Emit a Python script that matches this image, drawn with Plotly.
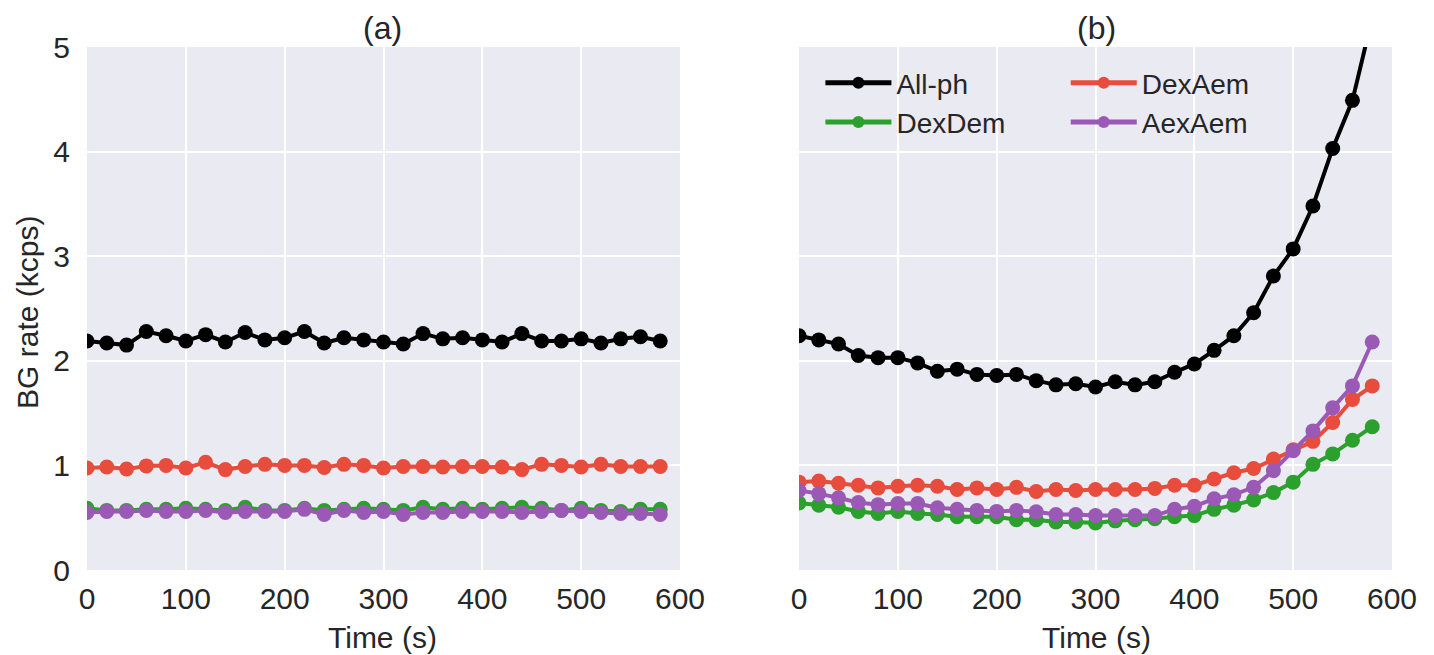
import plotly.graph_objects as go

time_s = [0, 20, 40, 60, 80, 100, 120, 140, 160, 180, 200, 220, 240, 260, 280,
          300, 320, 340, 360, 380, 400, 420, 440, 460, 480, 500, 520, 540, 560, 580]

# Panel (a)
a_allph = [2.19, 2.17, 2.15, 2.28, 2.24, 2.19, 2.25, 2.18, 2.27, 2.20, 2.22, 2.28, 2.17, 2.22, 2.20,
           2.18, 2.16, 2.26, 2.21, 2.22, 2.20, 2.18, 2.26, 2.19, 2.19, 2.21, 2.17, 2.21, 2.23, 2.19]
a_dexdem = [0.59, 0.57, 0.57, 0.58, 0.58, 0.59, 0.58, 0.57, 0.60, 0.57, 0.57, 0.59, 0.57, 0.58, 0.59,
            0.58, 0.57, 0.60, 0.58, 0.59, 0.58, 0.59, 0.60, 0.59, 0.57, 0.59, 0.57, 0.56, 0.58, 0.58]
a_dexaem = [0.975, 0.985, 0.965, 0.995, 1.00, 0.975, 1.03, 0.96, 0.99, 1.01, 1.00, 1.00, 0.98, 1.01, 1.00,
            0.975, 0.99, 0.99, 0.985, 0.99, 0.99, 0.985, 0.96, 1.01, 1.00, 0.985, 1.01, 0.99, 0.99, 0.99]
a_aexaem = [0.55, 0.56, 0.56, 0.57, 0.56, 0.56, 0.57, 0.55, 0.56, 0.56, 0.56, 0.58, 0.53, 0.57, 0.55,
            0.56, 0.53, 0.55, 0.55, 0.56, 0.56, 0.56, 0.55, 0.56, 0.57, 0.56, 0.55, 0.54, 0.54, 0.53]

# Panel (b)
b_allph = [2.24, 2.20, 2.16, 2.05, 2.03, 2.03, 1.98, 1.90, 1.92, 1.87, 1.86, 1.87, 1.81, 1.77, 1.78,
           1.75, 1.80, 1.77, 1.80, 1.89, 1.97, 2.10, 2.24, 2.46, 2.81, 3.07, 3.48, 4.03, 4.49, 5.28]
b_dexdem = [0.64, 0.62, 0.60, 0.56, 0.54, 0.56, 0.54, 0.53, 0.51, 0.51, 0.51, 0.48, 0.48, 0.46, 0.46,
            0.45, 0.47, 0.48, 0.49, 0.51, 0.52, 0.58, 0.62, 0.67, 0.74, 0.84, 1.01, 1.11, 1.24, 1.37]
b_dexaem = [0.84, 0.85, 0.83, 0.81, 0.785, 0.80, 0.81, 0.80, 0.77, 0.785, 0.77, 0.79, 0.75, 0.77, 0.76,
            0.77, 0.77, 0.77, 0.78, 0.81, 0.81, 0.87, 0.93, 0.97, 1.06, 1.15, 1.23, 1.41, 1.63, 1.76]
b_aexaem = [0.76, 0.73, 0.69, 0.645, 0.625, 0.635, 0.635, 0.595, 0.58, 0.57, 0.56, 0.57, 0.556, 0.53, 0.53,
            0.52, 0.52, 0.52, 0.52, 0.58, 0.61, 0.68, 0.72, 0.79, 0.95, 1.14, 1.33, 1.55, 1.76, 2.18]

x_ticks = [0, 100, 200, 300, 400, 500, 600]
y_ticks = [0, 1, 2, 3, 4, 5]

names = ["All-ph", "DexDem", "DexAem", "AexAem"]
colors = ["#000000", "#2ca02c", "#e74c3c", "#9b59b6"]
legend_ids = ["legend", "legend", "legend2", "legend2"]

FONT = "Liberation Sans, Arial, sans-serif"
TXT = "#262626"

fig = go.Figure()
for series, xa, ya, show in [
    ([a_allph, a_dexdem, a_dexaem, a_aexaem], "x", "y", False),
    ([b_allph, b_dexdem, b_dexaem, b_aexaem], "x2", "y2", True),
]:
    for vals, name, col, lg in zip(series, names, colors, legend_ids):
        fig.add_trace(go.Scatter(
            x=time_s, y=vals, name=name, mode="lines+markers",
            line=dict(color=col, width=4),
            marker=dict(color=col, size=15, symbol="circle"),
            xaxis=xa, yaxis=ya, showlegend=show, legend=lg, legendgroup=name,
        ))

axis_common = dict(
    range=[0, 600], tickvals=x_ticks, showgrid=True, gridcolor="white", gridwidth=2,
    zeroline=False, showline=False, ticks="", ticklabelstandoff=8,
    tickfont=dict(family=FONT, size=30, color=TXT),
)
yaxis_common = dict(
    range=[0, 5], tickvals=y_ticks, showgrid=True, gridcolor="white", gridwidth=2,
    zeroline=False, showline=False, ticks="",
)

legend_common = dict(
    xanchor="left", yanchor="top", bgcolor="rgba(0,0,0,0)",
    font=dict(family=FONT, size=28, color=TXT),
    traceorder="grouped", tracegroupgap=0, itemwidth=66, itemsizing="constant",
)

fig.update_layout(
    width=1434, height=655,
    paper_bgcolor="white", plot_bgcolor="#EAEAF2",
    margin=dict(l=79, r=50, t=39, b=93, autoexpand=False),
    font=dict(family=FONT, color=TXT),
    xaxis=dict(domain=[0, 0.4544], anchor="y", **axis_common),
    xaxis2=dict(domain=[0.5456, 1], anchor="y2", **axis_common),
    yaxis=dict(domain=[0, 1], anchor="x", ticklabelstandoff=16,
               tickfont=dict(family=FONT, size=30, color=TXT), **yaxis_common),
    yaxis2=dict(domain=[0, 1], anchor="x2", showticklabels=False, **yaxis_common),
    legend=dict(x=0.562, y=0.979, **legend_common),
    legend2=dict(x=0.750, y=0.979, **legend_common),
    annotations=[
        dict(text="(a)", x=0.2268, y=1.0363, xref="paper", yref="paper", showarrow=False,
             xanchor="center", yanchor="middle", font=dict(family=FONT, size=32, color=TXT)),
        dict(text="(b)", x=0.7732, y=1.0363, xref="paper", yref="paper", showarrow=False,
             xanchor="center", yanchor="middle", font=dict(family=FONT, size=32, color=TXT)),
        dict(text="Time (s)", x=0.2268, y=-0.130, xref="paper", yref="paper", showarrow=False,
             xanchor="center", yanchor="middle", font=dict(family=FONT, size=30, color=TXT)),
        dict(text="Time (s)", x=0.7732, y=-0.130, xref="paper", yref="paper", showarrow=False,
             xanchor="center", yanchor="middle", font=dict(family=FONT, size=30, color=TXT)),
        dict(text="BG rate (kcps)", x=-0.046, y=0.4933, xref="paper", yref="paper", showarrow=False,
             xanchor="center", yanchor="middle", textangle=-90,
             font=dict(family=FONT, size=30, color=TXT)),
    ],
)

fig.write_html("out.html")
